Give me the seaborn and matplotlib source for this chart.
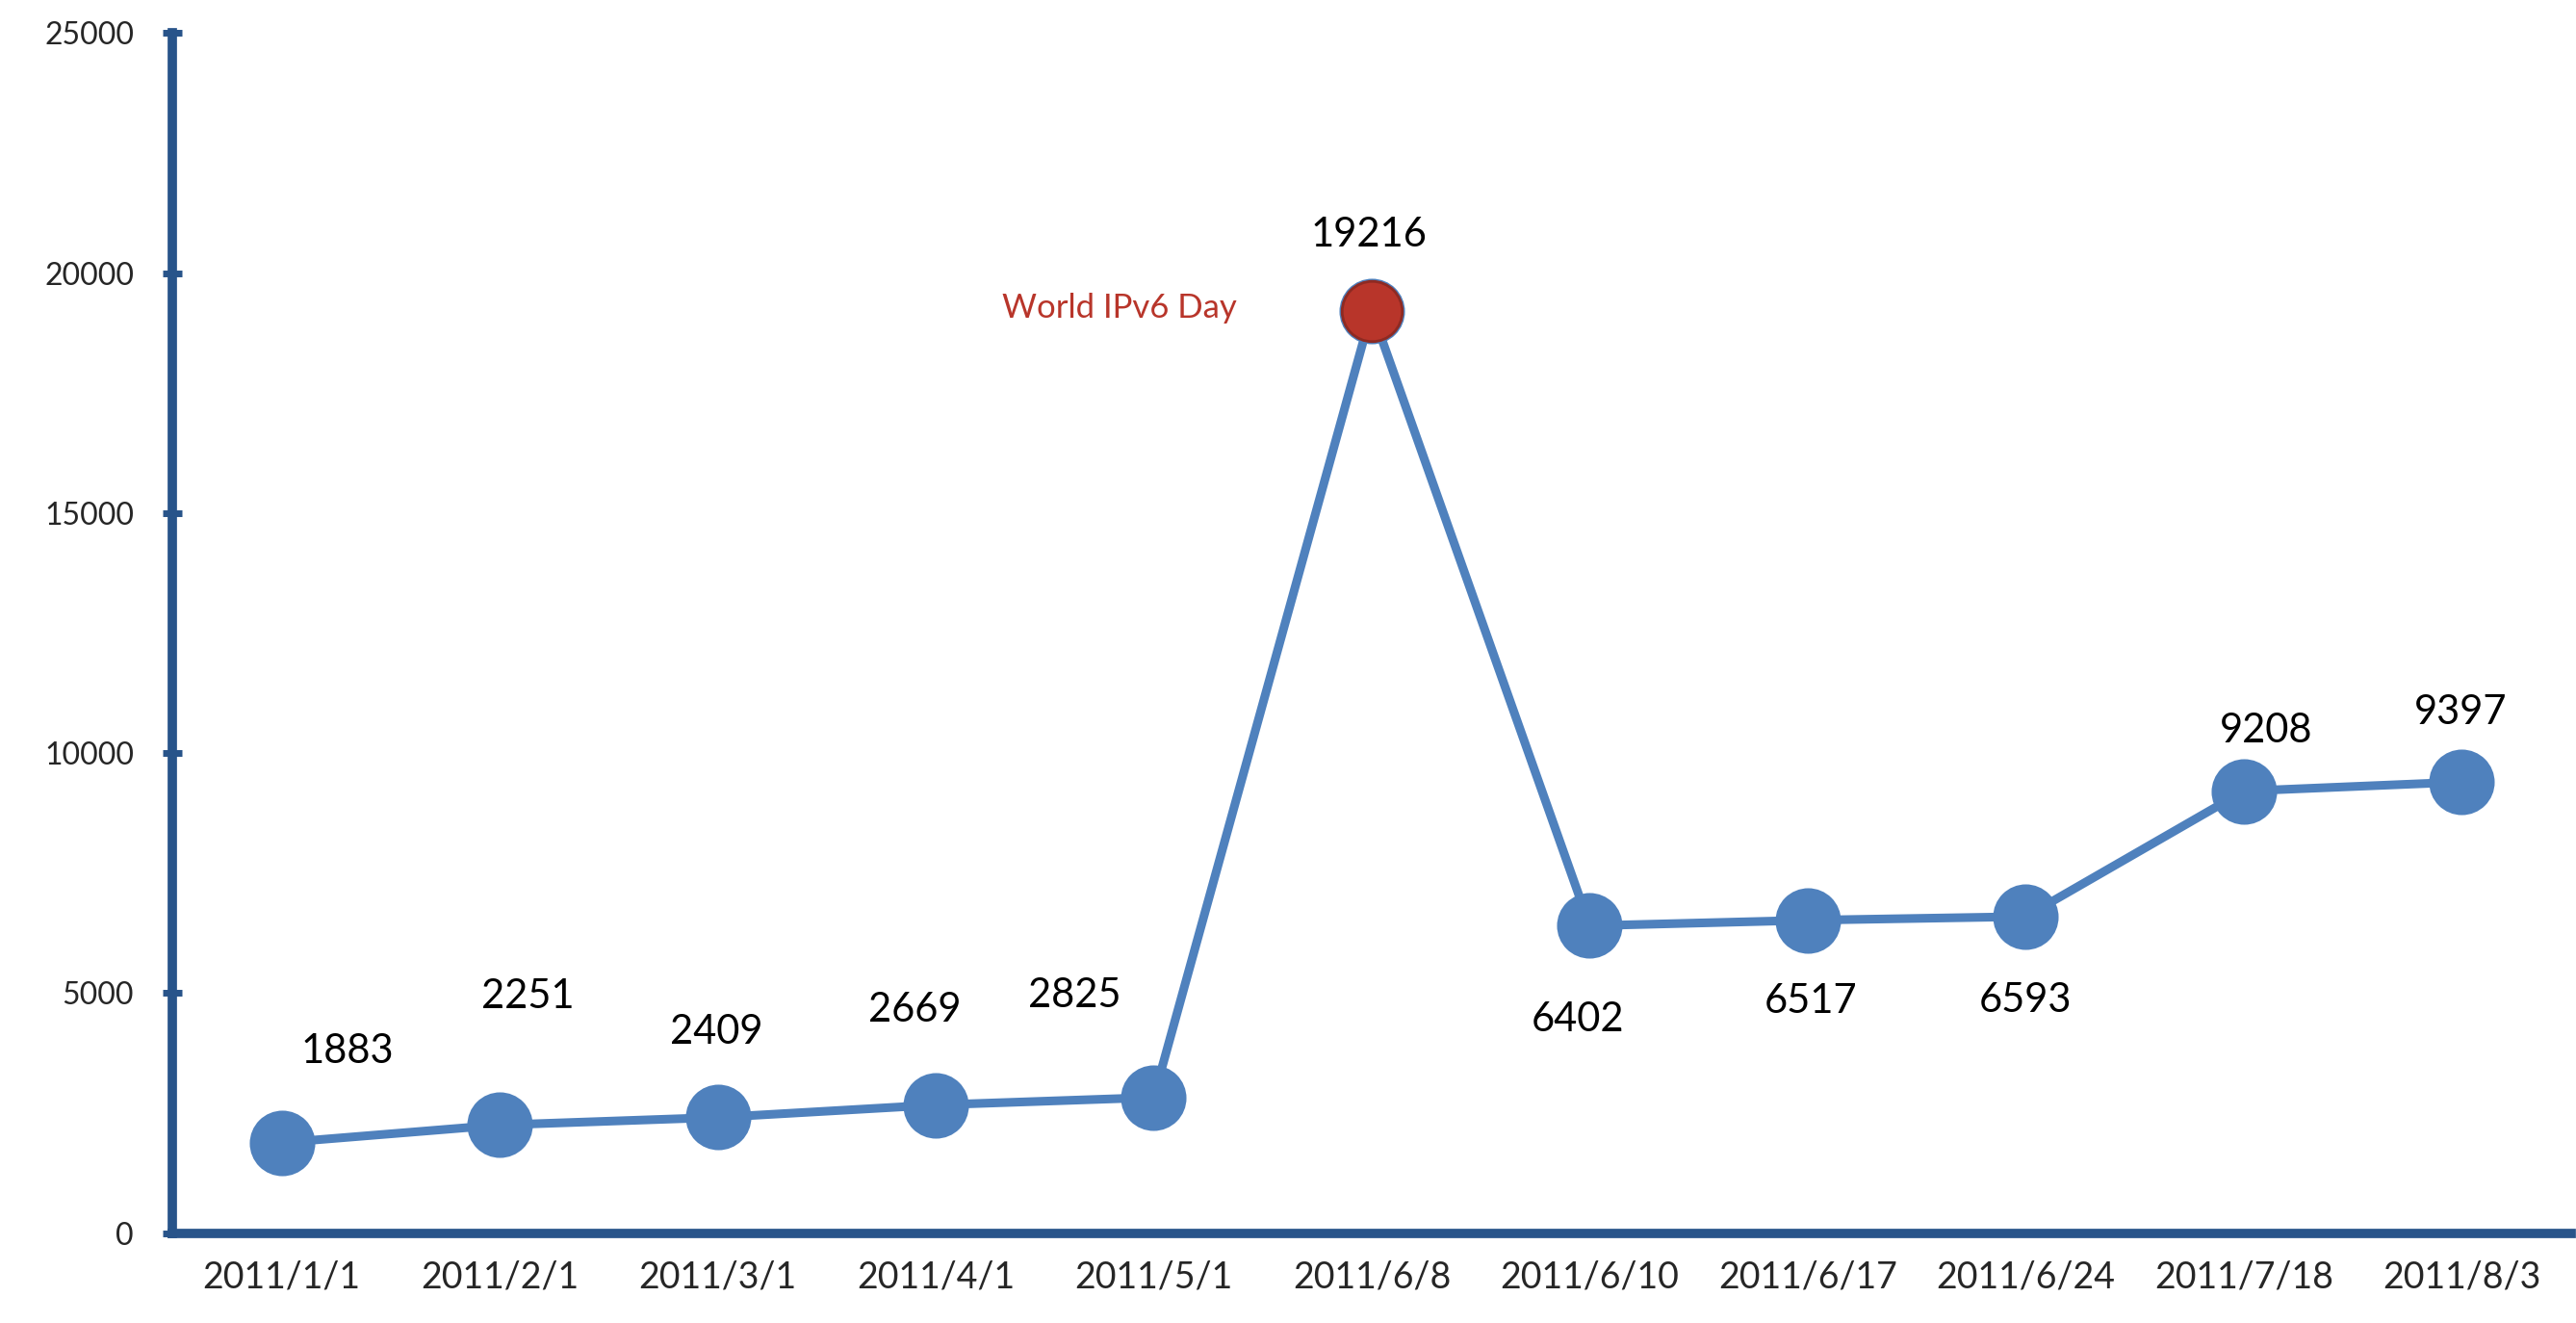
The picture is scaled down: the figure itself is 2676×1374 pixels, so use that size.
import numpy as np
import pandas as pd
import matplotlib
matplotlib.use("Agg")
import matplotlib.pyplot as plt
import seaborn as sns

dates = ["2011/1/1", "2011/2/1", "2011/3/1", "2011/4/1", "2011/5/1", "2011/6/8",
         "2011/6/10", "2011/6/17", "2011/6/24", "2011/7/18", "2011/8/3"]
counts = [1883, 2251, 2409, 2669, 2825, 19216, 6402, 6517, 6593, 9208, 9397]
# label offsets in points (dx, dy) relative to each point
label_offsets = [(49, 68), (21, 96), (-1, 64), (-16, 71), (-59, 76), (-2, 57),
                 (-9, -70), (2, -61), (0, -63), (17, 45), (-1, 52)]
highlight_date = "2011/6/8"
highlight_text = "World IPv6 Day"

sns.set_style("white")
plt.rcParams["font.family"] = ["Lato", "DejaVu Sans"]

blue = "#4F81BD"
axis_col = "#28548A"
red = "#B8352A"

df = pd.DataFrame({"date": dates, "count": counts})

fig, ax = plt.subplots(figsize=(26.76, 13.74), dpi=100)
fig.subplots_adjust(left=0.067, right=0.998, bottom=0.068, top=0.975)

sns.lineplot(data=df, x="date", y="count", sort=False, ax=ax, color=blue,
             linewidth=6.5, marker="o", markersize=49, markeredgewidth=0,
             markerfacecolor=blue)
hl = df[df["date"] == highlight_date]
sns.scatterplot(data=hl, x="date", y="count", ax=ax, color=red, s=45 ** 2,
                edgecolor="#8E2A22", linewidth=2, zorder=5)

for i, (d, v) in enumerate(zip(dates, counts)):
    dx, dy = label_offsets[i]
    ax.annotate(str(v), (i, v), xytext=(dx, dy), textcoords="offset points",
                ha="center", va="center", fontsize=30, color="black")

hi = dates.index(highlight_date)
ax.annotate(highlight_text, (hi, counts[hi]), xytext=(-189, 2),
            textcoords="offset points", ha="center", va="center",
            fontsize=25, color=red)

ax.set_xlim(-0.5, len(dates) - 0.5)
ax.set_ylim(0, 25000)
ax.set_yticks(np.arange(0, 25001, 5000))
ax.set_xticks(range(len(dates)))
ax.set_xticklabels(dates)
ax.set_xticks(np.arange(0.5, len(dates), 1), minor=True)
ax.set_xlabel("")
ax.set_ylabel("")

for side in ["top", "right"]:
    ax.spines[side].set_visible(False)
for side in ["left", "bottom"]:
    ax.spines[side].set_color(axis_col)
    ax.spines[side].set_linewidth(7)

ax.tick_params(axis="x", which="major", length=0, pad=20, labelsize=27)
ax.tick_params(axis="x", which="minor", direction="in", length=11, width=5,
               color=axis_col)
ax.tick_params(axis="y", which="major", direction="inout", length=14, width=5,
               color=axis_col, pad=22, labelsize=23, left=True)

plt.savefig("out.png", dpi=100, facecolor="white")
